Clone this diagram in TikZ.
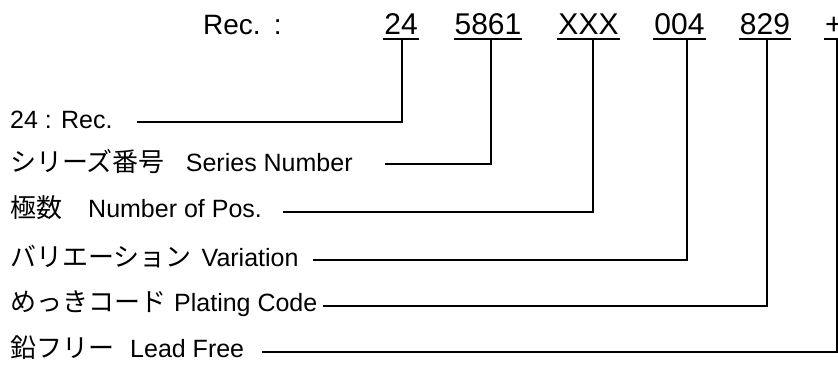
\documentclass[tikz,border=0pt]{standalone}
\usepackage{fontspec}
\setmainfont{Liberation Sans}
\newfontfamily\jpfont{Noto Sans CJK JP}
\newcommand{\jp}[1]{{\jpfont\fontsize{26}{30}\selectfont #1}}

\begin{document}
\begin{tikzpicture}[x=1pt, y=-1pt, conn/.style={line width=1.5pt}, uline/.style={line width=2.2pt}, code/.style={anchor=base, inner xsep=1pt, inner ysep=5pt, outer sep=0pt, font=\fontsize{30}{34}\selectfont}, lbl/.style={anchor=base west, inner sep=0pt, font=\fontsize{25}{30}\selectfont}]
	\useasboundingbox (0,0) rectangle (838,365);
	\node[anchor=base west, inner sep=0pt, font=\fontsize{28}{32}\selectfont] (rec) at (203,34) {Rec.\hspace{13pt}:};
	\node[code] (d1) at (401,34) {24};
	\node[code] (d2) at (488,34) {5861};
	\node[code] (d3) at (588.5,34) {XXX};
	\node[code] (d4) at (679.5,34) {004};
	\node[code] (d5) at (765,34) {829};
	\node[code, anchor=base west] (d6) at (824,34) {+};
	\foreach \d in {d1,d2,d3,d4,d5,d6}
		\draw[uline] (\d.south west) -- (\d.south east);
	\node[lbl] (l1) at (10,128) {24 : Rec.};
	\node[lbl] (l2) at (10,171) {\jp{シリーズ番号}\hspace{21pt}Series Number};
	\node[lbl] (l3) at (10,217) {\jp{極数}\hspace{26pt}Number of Pos.};
	\node[lbl] (l4) at (10,266) {\jp{バリエーション}\hspace{10pt}Variation};
	\node[lbl] (l5) at (10,311) {\jp{めっきコード}\hspace{8pt}Plating Code};
	\node[lbl] (l6) at (10,357) {\jp{鉛フリー}\hspace{16pt}Lead Free};
	\coordinate (s1) at (137,122);
	\coordinate (s2) at (385,164);
	\coordinate (s3) at (283,212);
	\coordinate (s4) at (313,260);
	\coordinate (s5) at (323,306);
	\coordinate (s6) at (262,352);
	\draw[conn] (s1) -| ([xshift=1pt]d1.south);
	\draw[conn] (s2) -| ([xshift=3pt]d2.south);
	\draw[conn] (s3) -| ([xshift=4.5pt]d3.south);
	\draw[conn] (s4) -| ([xshift=7.5pt]d4.south);
	\draw[conn] (s5) -| ([xshift=2pt]d5.south);
	\draw[conn] (s6) -| ([xshift=3pt]d6.south);
\end{tikzpicture}
\end{document}
